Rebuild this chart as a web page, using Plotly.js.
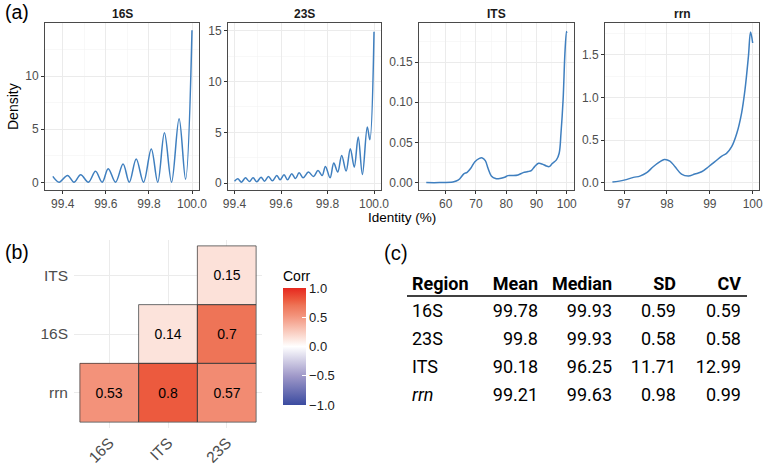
<!DOCTYPE html>
<html>
<head>
<meta charset="utf-8">
<script src="https://cdn.plot.ly/plotly-3.0.1.min.js"></script>
<style>html,body{margin:0;padding:0;background:#fff}#chart{width:767px;height:474px}</style>
</head>
<body>
<div id="chart"></div>
<script>
// ---------- (a) density data ----------
const s16_x = [99.354, 99.383, 99.422, 99.452, 99.483, 99.519, 99.552, 99.583, 99.611, 99.645, 99.68, 99.709, 99.741, 99.775, 99.811, 99.841, 99.872, 99.905, 99.94, 99.97, 100.0];
const s16_y = [0.57, 0.02, 0.66, 0.02, 0.73, 0.02, 1.04, 0.02, 1.29, 0.02, 1.73, 0.02, 2.2, 0.02, 3.15, 0.02, 4.66, 0.02, 5.98, 0.31, 14.3];

const s23_x = [99.40, 99.414, 99.43, 99.447, 99.464, 99.48, 99.496, 99.514, 99.529, 99.546, 99.563, 99.582, 99.596, 99.613, 99.628, 99.646, 99.662, 99.678, 99.695, 99.718, 99.74, 99.759, 99.777, 99.791, 99.811, 99.827, 99.844, 99.861, 99.88, 99.898, 99.915, 99.932, 99.95, 99.971, 99.982, 100.0];
const s23_y = [0.2, 0.43, 0.1, 0.53, 0.17, 0.53, 0.13, 0.59, 0.2, 0.66, 0.23, 0.76, 0.33, 0.83, 0.33, 0.92, 0.46, 1.02, 0.53, 1.09, 0.66, 1.25, 0.76, 1.65, 0.53, 1.98, 1.09, 2.73, 1.19, 3.39, 1.58, 4.54, 0.86, 5.53, 4.28, 14.9];

const its_x = [53.6, 58, 62.4, 63.5, 64.6, 66.0, 67.1, 68.3, 69.6, 71.0, 72.1, 73.1, 74.0, 75.1, 76.5, 77.9, 79.5, 80.6, 82.3, 83.9, 85.6, 87.2, 88.3, 89.4, 90.7, 91.8, 93.3, 94.2, 95.3, 96.6, 97.5, 98.1, 98.8, 99.4, 99.9, 100];
const its_y = [0, 0, 0.0008, 0.002, 0.0045, 0.0108, 0.0128, 0.0178, 0.0257, 0.0298, 0.0307, 0.0273, 0.0178, 0.0083, 0.005, 0.005, 0.0066, 0.0087, 0.0087, 0.0095, 0.0124, 0.0137, 0.0149, 0.0199, 0.024, 0.0232, 0.0207, 0.0199, 0.024, 0.0282, 0.0365, 0.0613, 0.103, 0.161, 0.188, 0.186];

const rrn_x = [96.73, 97.0, 97.22, 97.37, 97.53, 97.68, 97.84, 97.94, 98.07, 98.19, 98.34, 98.5, 98.65, 98.81, 98.97, 99.12, 99.28, 99.39, 99.51, 99.63, 99.74, 99.82, 99.9, 99.95, 100.0];
const rrn_y = [0.008, 0.031, 0.063, 0.078, 0.118, 0.188, 0.247, 0.274, 0.255, 0.188, 0.102, 0.078, 0.102, 0.129, 0.188, 0.247, 0.313, 0.345, 0.423, 0.58, 0.815, 1.09, 1.48, 1.77, 1.64];

const panelTitles = ['16S', '23S', 'ITS', 'rrn'];

// ---------- (b) correlation data ----------
const corrX = ['16S', 'ITS', '23S'];
const corrY = ['rrn', '16S', 'ITS'];
const corrZ = [
  [0.53, 0.8, 0.57],
  [null, 0.14, 0.7],
  [null, null, 0.15]
];

// ---------- (c) table data ----------
const tabHeader = ['Region', 'Mean', 'Median', 'SD', 'CV'];
const tabRegion = ['16S', '23S', 'ITS', '<i>rrn</i>'];
const tabMean = ['99.78', '99.8', '90.18', '99.21'];
const tabMedian = ['99.93', '99.93', '96.25', '99.63'];
const tabSD = ['0.59', '0.58', '11.71', '0.98'];
const tabCV = ['0.59', '0.58', '12.99', '0.99'];

// ---------- layout helpers ----------
const W = 767, H = 474;
const FONT = 'Liberation Sans, Arial, sans-serif';
const px = v => v / W;
const py = v => 1 - v / H;
const lineColor = '#3f7fbf';

function densAxis(dom, range, dtick, tick0, minorTick0, fmt) {
  return {
    domain: dom, range: range, autorange: false,
    tickmode: 'linear', dtick: dtick, tick0: tick0, tickformat: fmt,
    showgrid: true, gridcolor: '#ebebeb', gridwidth: 1,
    minor: {showgrid: true, gridcolor: '#f3f3f3', gridwidth: 0.6, dtick: dtick / 2, tick0: minorTick0},
    showline: true, linecolor: '#4a4a4a', linewidth: 1, mirror: true,
    ticks: 'outside', ticklen: 3, tickcolor: '#333', tickwidth: 1,
    tickfont: {family: FONT, size: 12, color: '#4d4d4d'},
    zeroline: false
  };
}

const yDom = [py(190), py(23)];
const pX = [[45, 199], [228, 381], [419, 574], [605, 759]];

const traces = [];
const dens = [[s16_x, s16_y], [s23_x, s23_y], [its_x, its_y], [rrn_x, rrn_y]];
dens.forEach((d, i) => {
  traces.push({
    type: 'scatter', mode: 'lines', x: d[0], y: d[1],
    xaxis: 'x' + (i ? i + 1 : ''), yaxis: 'y' + (i ? i + 1 : ''),
    line: {color: lineColor, width: 1.5, shape: 'spline', smoothing: 1},
    hoverinfo: 'skip', showlegend: false
  });
});

// heatmap
const corrText = corrZ.map(r => r.map(v => v === null ? '' : String(v)));
traces.push({
  type: 'heatmap', x: corrX, y: corrY, z: corrZ, text: corrText,
  texttemplate: '%{text}', textfont: {family: FONT, size: 14, color: '#000'},
  xaxis: 'x5', yaxis: 'y5', zmin: -1, zmax: 1,
  colorscale: [
    [0, '#3b4ba0'], [0.25, '#a099c9'], [0.5, '#ffffff'], [0.57, '#fce3db'],
    [0.765, '#f3927a'], [0.85, '#ee7457'], [0.9, '#ec5a3e'], [1, '#e6281f']
  ],
  hoverinfo: 'skip',
  colorbar: {
    x: px(283), xanchor: 'left', xpad: 0, y: py(267), yanchor: 'top', ypad: 0,
    len: 138, lenmode: 'pixels', thickness: 23, thicknessmode: 'pixels',
    outlinewidth: 0, ticks: 'inside', ticklen: 4, tickcolor: '#fff', tickwidth: 1,
    tickvals: [-1, -0.5, 0, 0.5, 1], ticktext: ['\u22121.0', '\u22120.5', '0.0', '0.5', '1.0'],
    tickfont: {family: FONT, size: 13, color: '#1a1a1a'},
    title: {text: 'Corr', side: 'top', font: {family: FONT, size: 14, color: '#000'}}
  }
});

// table as text marks
const colAnchor = [412, 538, 612, 676, 741];
const headY = 285;
const rowY = [312, 340, 368, 396];
const tabCols = [tabRegion, tabMean, tabMedian, tabSD, tabCV];
const TFONT = 'Roboto, Lato, sans-serif';
tabHeader.forEach((h, c) => {
  traces.push({
    type: 'scatter', mode: 'text', xaxis: 'x6', yaxis: 'y6',
    x: [colAnchor[c]], y: [headY], text: ['<b>' + h + '</b>'],
    textposition: c === 0 ? 'middle right' : 'middle left',
    textfont: {family: TFONT, size: 18, color: '#000'},
    hoverinfo: 'skip', showlegend: false
  });
  traces.push({
    type: 'scatter', mode: 'text', xaxis: 'x6', yaxis: 'y6',
    x: rowY.map(() => colAnchor[c]), y: rowY, text: tabCols[c],
    textposition: c === 0 ? 'middle right' : 'middle left',
    textfont: {family: TFONT, size: 18, color: '#000'},
    hoverinfo: 'skip', showlegend: false
  });
});

// cell borders derived from the data grid
const shapes = [];
corrZ.forEach((row, j) => row.forEach((v, i) => {
  if (v !== null) shapes.push({type: 'rect', xref: 'x5', yref: 'y5', x0: i - 0.5, x1: i + 0.5, y0: j - 0.5, y1: j + 0.5,
    line: {color: 'rgba(60,60,60,0.75)', width: 1}, fillcolor: 'rgba(0,0,0,0)', layer: 'above'});
}));
shapes.push({type: 'line', xref: 'paper', yref: 'paper', x0: px(407), x1: px(747), y0: py(296), y1: py(296), line: {color: '#000', width: 1.5}});

const annotations = [];
panelTitles.forEach((t, i) => {
  annotations.push({text: '<b>' + t + '</b>', xref: 'paper', yref: 'paper', x: px((pX[i][0] + pX[i][1]) / 2), y: py(14),
    showarrow: false, xanchor: 'center', yanchor: 'middle', font: {family: FONT, size: 12, color: '#1a1a1a'}});
});
annotations.push({text: 'Identity (%)', xref: 'paper', yref: 'paper', x: px(402), y: py(218), showarrow: false,
  xanchor: 'center', yanchor: 'middle', font: {family: FONT, size: 13.5, color: '#000'}});
annotations.push({text: 'Density', xref: 'paper', yref: 'paper', x: px(13), y: py(107), showarrow: false, textangle: -90,
  xanchor: 'center', yanchor: 'middle', font: {family: FONT, size: 14, color: '#000'}});
[['(a)', 3, 12, FONT], ['(b)', 3, 252, FONT], ['(c)', 382, 253, TFONT]].forEach(l => {
  annotations.push({text: l[0], xref: 'paper', yref: 'paper', x: px(l[1]), y: py(l[2]), showarrow: false,
    xanchor: 'left', yanchor: 'middle', font: {family: l[3], size: 19.5, color: '#000'}});
});

const hmAxis = (dom, cats, angle) => ({
  domain: dom, type: 'category', categoryorder: 'array', categoryarray: cats, range: [-0.6, 2.6], autorange: false,
  showgrid: true, gridcolor: '#ebebeb', gridwidth: 1, showline: false, zeroline: false, ticks: '',
  tickangle: angle, tickfont: {family: FONT, size: 15.5, color: '#4d4d4d'}
});

const layout = {
  width: W, height: H, margin: {l: 0, r: 0, t: 0, b: 0},
  paper_bgcolor: '#fff', plot_bgcolor: 'rgba(0,0,0,0)', showlegend: false,
  font: {family: FONT},
  xaxis: Object.assign(densAxis([px(45), px(199)], [99.3175, 100.0325], 0.2, 99.4, 99.3, '.1f'), {anchor: 'y'}),
  yaxis: Object.assign(densAxis(yDom, [-0.71, 14.98], 5, 0, 2.5, ''), {anchor: 'x'}),
  xaxis2: Object.assign(densAxis([px(228), px(381)], [99.372, 100.03], 0.2, 99.4, 99.3, '.1f'), {anchor: 'y2'}),
  yaxis2: Object.assign(densAxis(yDom, [-0.67, 15.75], 5, 0, 2.5, ''), {anchor: 'x2'}),
  xaxis3: Object.assign(densAxis([px(419), px(574)], [51.2, 102.4], 10, 60, 55, ''), {anchor: 'y3'}),
  yaxis3: Object.assign(densAxis(yDom, [-0.0092, 0.1985], 0.05, 0, 0.025, '.2f'), {anchor: 'x3'}),
  xaxis4: Object.assign(densAxis([px(605), px(759)], [96.557, 100.147], 1, 97, 96.5, ''), {anchor: 'y4'}),
  yaxis4: Object.assign(densAxis(yDom, [-0.085, 1.875], 0.5, 0, 0.25, '.1f'), {anchor: 'x4'}),
  xaxis5: Object.assign(hmAxis([px(74), px(262)], corrX, -45), {anchor: 'y5', ticklabelstandoff: 2}),
  yaxis5: Object.assign(hmAxis([py(428), py(240)], corrY, 0), {anchor: 'x5', ticklabelstandoff: 5}),
  xaxis6: {domain: [0, 1], range: [0, W], visible: false, anchor: 'y6'},
  yaxis6: {domain: [0, 1], range: [H, 0], visible: false, anchor: 'x6'},
  shapes: shapes, annotations: annotations
};

Plotly.newPlot('chart', traces, layout, {staticPlot: true, displayModeBar: false});
</script>
</body>
</html>
